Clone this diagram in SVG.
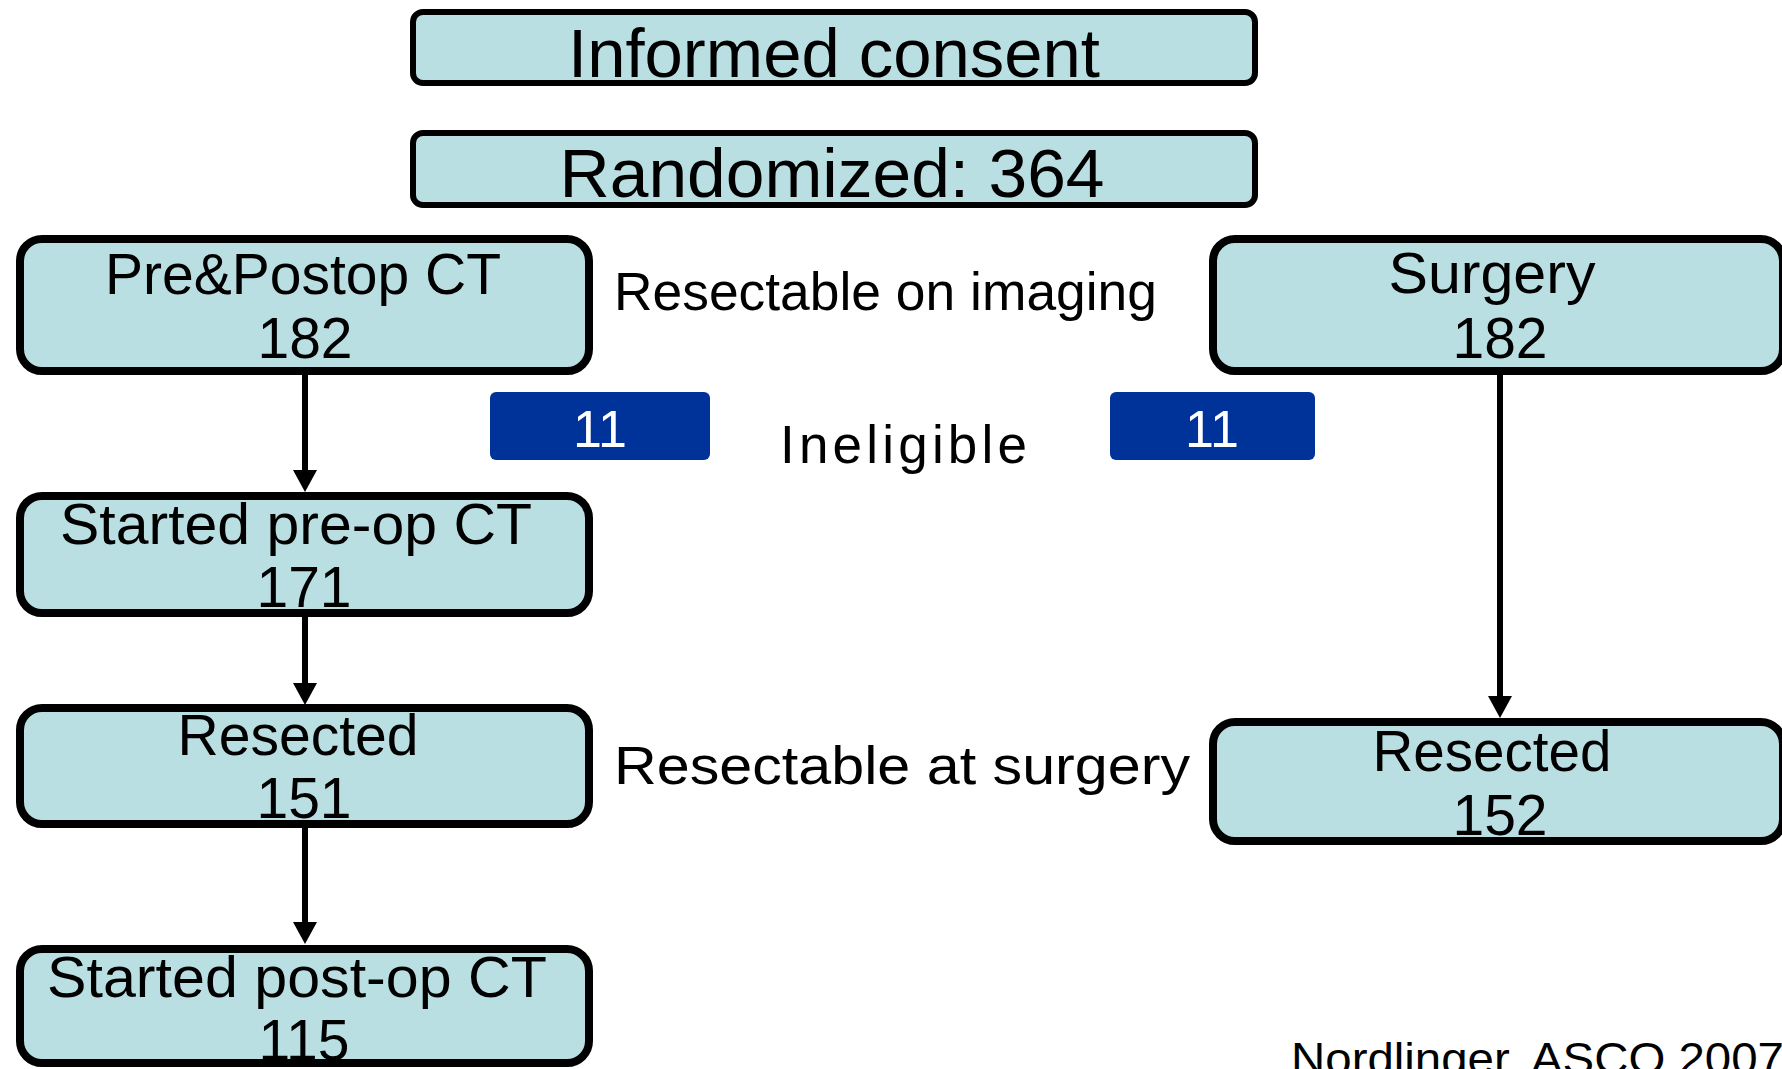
<svg xmlns="http://www.w3.org/2000/svg" width="1782" height="1069" viewBox="0 0 1782 1069">
<defs>
<style>
.box{fill:#BADFE3;stroke:#000;stroke-width:8}
.top{fill:#BADFE3;stroke:#000;stroke-width:6}
.blue{fill:#003399}
text{font-family:"Liberation Sans",Arial,sans-serif;fill:#000}
.big{font-size:69px;text-anchor:middle}
.nt{font-size:57px;text-anchor:middle}
.lbl{font-size:53px}
.w{fill:#fff;font-size:52px;text-anchor:middle}
.conn{stroke:#000;stroke-width:6;fill:none}
</style>
<marker id="ah" markerUnits="userSpaceOnUse" markerWidth="22" markerHeight="24" refX="0" refY="12" orient="auto">
<path d="M0,0 L22,12 L0,24 z" fill="#000"/>
</marker>
</defs>
<rect width="1782" height="1069" fill="#fff"/>

<g id="informed-consent">
<rect class="top" x="413" y="12" width="842" height="71" rx="10"/>
<text class="big" x="834" y="77" textLength="532" lengthAdjust="spacingAndGlyphs">Informed consent</text>
</g>
<g id="randomized">
<rect class="top" x="413" y="133" width="842" height="72" rx="10"/>
<text class="big" x="832" y="197" textLength="545" lengthAdjust="spacingAndGlyphs">Randomized: 364</text>
</g>

<g id="prepostop-ct">
<rect class="box" x="20" y="239" width="569" height="132" rx="22"/>
<text class="nt" x="303" y="294" textLength="396" lengthAdjust="spacingAndGlyphs">Pre&amp;Postop CT</text>
<text class="nt" x="305" y="358">182</text>
</g>
<g id="started-preop-ct">
<rect class="box" x="20" y="496" width="569" height="117" rx="22"/>
<text class="nt" x="296" y="544" textLength="472" lengthAdjust="spacingAndGlyphs">Started pre-op CT</text>
<text class="nt" x="304" y="607">171</text>
</g>
<g id="resected-151">
<rect class="box" x="20" y="708" width="569" height="116" rx="22"/>
<text class="nt" x="298" y="755" textLength="241" lengthAdjust="spacingAndGlyphs">Resected</text>
<text class="nt" x="304" y="818">151</text>
</g>
<g id="started-postop-ct">
<rect class="box" x="20" y="949" width="569" height="114" rx="22"/>
<text class="nt" x="297" y="997" textLength="500" lengthAdjust="spacingAndGlyphs">Started post-op CT</text>
<text class="nt" x="304" y="1060">115</text>
</g>

<g id="surgery">
<rect class="box" x="1213" y="239" width="570" height="132" rx="22"/>
<text class="nt" x="1492" y="293" textLength="207" lengthAdjust="spacingAndGlyphs">Surgery</text>
<text class="nt" x="1500" y="358">182</text>
</g>
<g id="resected-152">
<rect class="box" x="1213" y="722" width="570" height="119" rx="22"/>
<text class="nt" x="1492" y="771" textLength="239" lengthAdjust="spacingAndGlyphs">Resected</text>
<text class="nt" x="1500" y="835">152</text>
</g>

<g id="ineligible-left">
<rect class="blue" x="490" y="392" width="220" height="68" rx="6"/>
<text class="w" x="600" y="447">11</text>
</g>
<g id="ineligible-right">
<rect class="blue" x="1110" y="392" width="205" height="68" rx="6"/>
<text class="w" x="1212" y="447">11</text>
</g>

<g id="labels">
<text class="lbl" x="614" y="310" textLength="543" lengthAdjust="spacingAndGlyphs">Resectable on imaging</text>
<text class="lbl" x="780" y="463" font-size="55" textLength="247" lengthAdjust="spacing">Ineligible</text>
<text class="lbl" x="614" y="784" textLength="576" lengthAdjust="spacingAndGlyphs">Resectable at surgery</text>
<text x="1291" y="1074" font-size="45" textLength="493" lengthAdjust="spacingAndGlyphs">Nordlinger, ASCO 2007</text>
</g>

<g id="connectors">
<path class="conn" d="M305,375 V470" marker-end="url(#ah)"/>
<path class="conn" d="M305,617 V683" marker-end="url(#ah)"/>
<path class="conn" d="M305,828 V922" marker-end="url(#ah)"/>
<path class="conn" d="M1500,375 V696" marker-end="url(#ah)"/>
</g>
</svg>
